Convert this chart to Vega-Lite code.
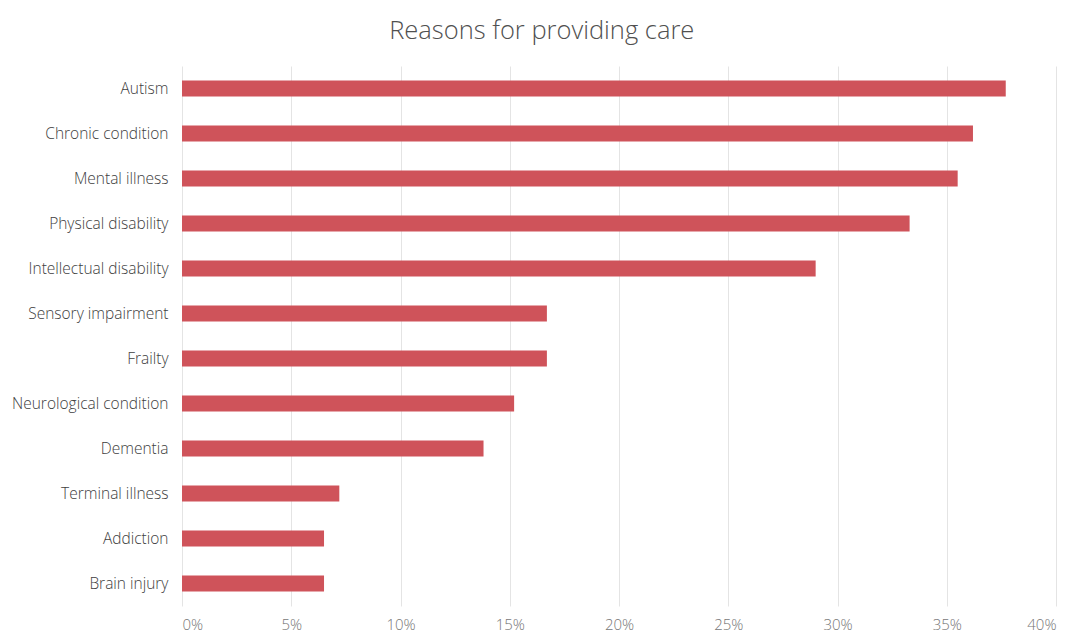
{
  "$schema": "https://vega.github.io/schema/vega-lite/v6.json",
  "autosize": "none",
  "width": 874,
  "height": 540,
  "padding": {"left": 182, "top": 66, "right": 17, "bottom": 29},
  "background": "white",
  "title": {
    "text": "Reasons for providing care",
    "font": "Open Sans",
    "fontSize": 25.5,
    "fontWeight": 300,
    "color": "#505050",
    "anchor": "middle",
    "frame": "bounds",
    "offset": 22,
    "dx": 8
  },
  "data": {
    "values": [
      {"reason": "Autism", "pct": 37.7},
      {"reason": "Chronic condition", "pct": 36.2},
      {"reason": "Mental illness", "pct": 35.5},
      {"reason": "Physical disability", "pct": 33.3},
      {"reason": "Intellectual disability", "pct": 29.0},
      {"reason": "Sensory impairment", "pct": 16.7},
      {"reason": "Frailty", "pct": 16.7},
      {"reason": "Neurological condition", "pct": 15.2},
      {"reason": "Dementia", "pct": 13.8},
      {"reason": "Terminal illness", "pct": 7.2},
      {"reason": "Addiction", "pct": 6.5},
      {"reason": "Brain injury", "pct": 6.5}
    ]
  },
  "mark": {"type": "bar", "color": "#cf535a"},
  "encoding": {
    "y": {
      "field": "reason",
      "type": "nominal",
      "sort": null,
      "scale": {"paddingInner": 0.64, "paddingOuter": 0.32},
      "axis": {
        "title": null,
        "domain": false,
        "ticks": false,
        "grid": false,
        "labelFont": "Open Sans",
        "labelFontSize": 15.5,
        "labelFontWeight": 300,
        "labelColor": "#404040",
        "labelPadding": 14,
        "labelLimit": 300
      }
    },
    "x": {
      "field": "pct",
      "type": "quantitative",
      "scale": {"domain": [0, 40], "nice": false},
      "axis": {
        "title": null,
        "values": [0, 5, 10, 15, 20, 25, 30, 35, 40],
        "labelExpr": "datum.value + '%'",
        "domain": false,
        "ticks": false,
        "grid": true,
        "gridColor": "#e4e4e4",
        "gridWidth": 1,
        "labelFont": "Open Sans",
        "labelFontSize": 15,
        "labelFontWeight": 300,
        "labelColor": "#777777",
        "labelPadding": 11
      }
    }
  },
  "config": {"view": {"stroke": null}}
}
